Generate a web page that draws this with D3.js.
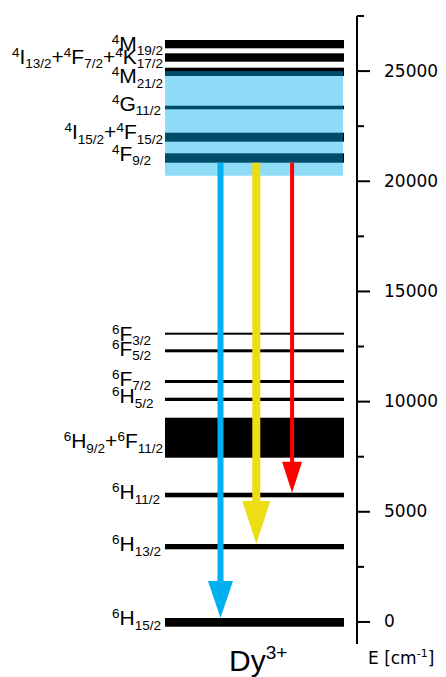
<!DOCTYPE html>
<html><head><meta charset="utf-8">
<script src="https://cdn.jsdelivr.net/npm/d3@7"></script>
<style>body{margin:0;background:#fff}svg{display:block}</style>
</head><body><svg id="c" width="446" height="677"></svg>
<script>
// ---- data (energies in cm^-1) ----
const levelNames = ["^6H_15/2","^6H_13/2","^6H_11/2","^6H_9/2+^6F_11/2","^6H_5/2","^6F_7/2","^6F_5/2","^6F_3/2",
  "^4F_9/2","^4I_15/2+^4F_15/2","^4G_11/2","^4M_21/2","^4I_13/2+^4F_7/2+^4K_17/2","^4M_19/2"];
const levelLow  = [-215,3298,5657,7455,10028,10845,12238,13037,20843,21796,23266,24777,25426,26034];
const levelHigh = [ 180,3538,5866,9270,10178,10981,12374,13128,21269,22204,23429,25154,25807,26411];
const labelEnergy = [-138,3220,5567,7881,9937,10722,12084,12764,20920,21904,23203,24446,25322,25925];
const upperBand = [20250, 25000];
const transitionNames = ["blue","yellow","red"];
const transitionFrom = [8, 8, 8];   // index into levels (4F9/2)
const transitionTo   = [0, 1, 2];   // 6H15/2, 6H13/2, 6H11/2
const majorTicks = [0,5000,10000,15000,20000,25000];
const minorTicks = [2500,7500,12500,17500,22500,27500];
const energyDomain = [-1000, 27500];
const ionLabel = ["Dy","3+"];
const axisTitle = ["E [cm","-1","]"];

// ---- styles ----
const arrowStyle = {
  blue:   {color:"#00b0f0", shaft:6, headW:25, headH:37},
  yellow: {color:"#ecdd15", shaft:8, headW:28, headH:43},
  red:    {color:"#ff0000", shaft:4, headW:20, headH:31}
};

const svg = d3.select("#c");
const y = d3.scaleLinear().domain(energyDomain).range([644, 16]);
const x = d3.scaleLinear().domain([0,1]).range([165, 344]);
const xa = d3.scalePoint().domain(transitionNames).range([x(0.31), x(0.71)]);

const levels = levelNames.map((n,i)=>({name:n, lo:levelLow[i], hi:levelHigh[i], le:labelEnergy[i]}));

// level bars
svg.append("g").selectAll("rect").data(levels).join("rect")
  .attr("x", x(0)).attr("width", x(1)-x(0))
  .attr("y", d=>y(d.hi)).attr("height", d=>y(d.lo)-y(d.hi))
  .attr("fill","#000");

// upper manifold band
svg.append("rect")
  .attr("x", x(0)).attr("width", x(1)-x(0)-1)
  .attr("y", y(upperBand[1])).attr("height", y(upperBand[0])-y(upperBand[1]))
  .attr("fill","#00b0f0").attr("fill-opacity",0.44);

// arrows
const trans = transitionNames.map((n,i)=>({name:n, from:levels[transitionFrom[i]].lo, to:levels[transitionTo[i]].hi}));
svg.append("g").selectAll("path").data(trans).join("path")
  .attr("d", d=>{
    const s = arrowStyle[d.name], xc = xa(d.name), y0 = y(d.from), y1 = y(d.to);
    return `M${xc-s.shaft/2},${y0}L${xc+s.shaft/2},${y0}L${xc+s.shaft/2},${y1-s.headH}L${xc+s.headW/2},${y1-s.headH}`+
           `L${xc},${y1}L${xc-s.headW/2},${y1-s.headH}L${xc-s.shaft/2},${y1-s.headH}Z`;
  })
  .attr("fill", d=>arrowStyle[d.name].color);

// labels
function termLabel(sel, str){
  const parts = str.split(/(\^[0-9]+|_[0-9\/]+)/).filter(p=>p.length);
  let cur = 0;
  parts.forEach(p=>{
    let off = 0, size = 21, t = p;
    if(p[0]==="^"){ off = -7; size = 13.5; t = p.slice(1); }
    else if(p[0]==="_"){ off = 4.5; size = 13.5; t = p.slice(1); }
    sel.append("tspan").attr("dy", off-cur).attr("font-size", size).text(t);
    cur = off;
  });
}
const lg = svg.append("g").attr("font-family","'Liberation Sans', Arial, sans-serif").attr("fill","#000");
levels.forEach(d=>{
  const t = lg.append("text").attr("x", 0).attr("y", y(d.le));
  termLabel(t, d.name);
  const w = t.node().getComputedTextLength();
  t.attr("x", Math.min(112, 163 - w));
});

// axis
const ax = svg.append("g").attr("transform","translate(357,0)");
ax.call(d3.axisRight(y).tickValues(majorTicks).tickSize(13).tickSizeOuter(0).tickPadding(14).offset(0).tickFormat(d3.format("d")));
const mi = svg.append("g").attr("transform","translate(357,0)");
mi.call(d3.axisRight(y).tickValues(minorTicks).tickSize(7).tickSizeOuter(0).offset(0).tickFormat(""));
mi.select(".domain").remove();
svg.selectAll(".domain, .tick line").attr("stroke","#000").attr("stroke-width",2);
ax.selectAll(".tick text").attr("font-family","'DejaVu Sans', Verdana, sans-serif").attr("font-size",17).attr("fill","#000");

// axis title
const at = svg.append("text").attr("x", 368).attr("y", 664)
  .attr("font-family","'DejaVu Sans', Verdana, sans-serif").attr("font-size",17).attr("fill","#000");
at.append("tspan").text(axisTitle[0]);
at.append("tspan").attr("dy",-7).attr("font-size",11).text(axisTitle[1]);
at.append("tspan").attr("dy",7).text(axisTitle[2]);

// ion label
const il = svg.append("text").attr("x", 229).attr("y", 671)
  .attr("font-family","'Liberation Sans', Arial, sans-serif").attr("font-size",30).attr("fill","#000");
il.append("tspan").text(ionLabel[0]);
il.append("tspan").attr("dy",-12).attr("font-size",19).text(ionLabel[1]);
</script></body></html>
